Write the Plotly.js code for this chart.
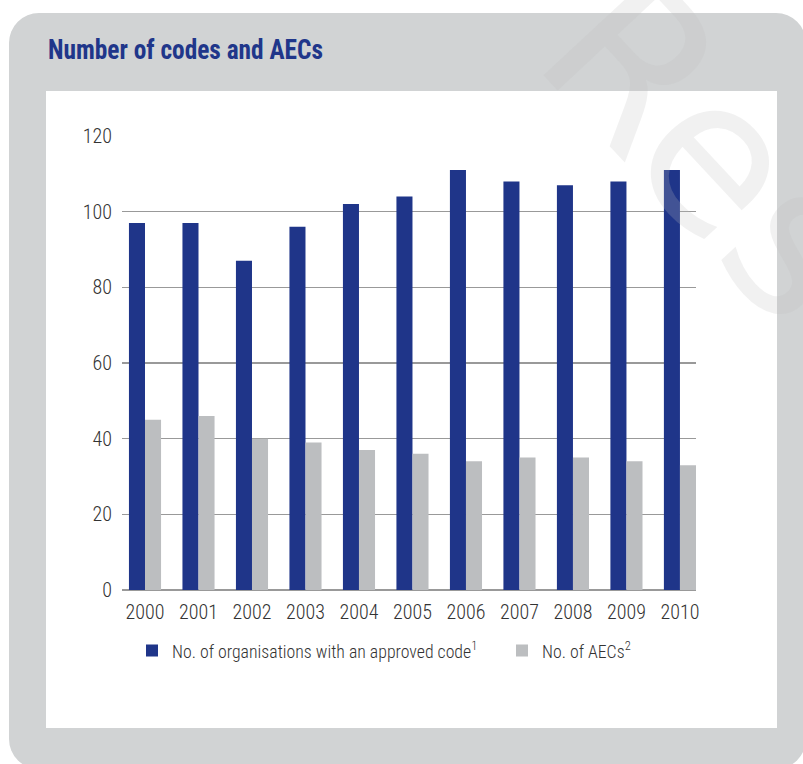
<!DOCTYPE html>
<html><head><meta charset="utf-8">
<script src="https://cdn.plot.ly/plotly-3.0.1.min.js"></script>
<style>
html,body{margin:0;padding:0;width:803px;height:764px;overflow:hidden;background:#fff;}
#wrap{position:relative;width:803px;height:764px;}
#grey{position:absolute;left:9px;top:13px;width:797px;height:756px;background:#d1d3d4;border-radius:30px;}
#white{position:absolute;left:46px;top:91px;width:731px;height:637px;background:#fff;}
#chart{position:absolute;left:0;top:0;width:803px;height:764px;}
</style></head>
<body><div id="wrap"><div id="grey"></div><div id="white"></div><div id="chart"></div></div>
<script>
const years = ['2000','2001','2002','2003','2004','2005','2006','2007','2008','2009','2010'];
const orgsWithCode = [97,97,87,96,102,104,111,108,107,108,111];
const aecs = [45,46,40,39,37,36,34,35,35,34,33];
const yTicks = [0,20,40,60,80,100,120];
const seriesNames = ['No. of organisations with an approved code<sup>1</sup>', 'No. of AECs<sup>2</sup>'];
const chartTitle = 'Number of codes and AECs';
const watermark = 'Res';

const W = 803, H = 764;
const L = 122, R = 107, T = 136, B = 174;
const PW = W - L - R, PH = H - T - B;
const font = 'Roboto Condensed, Roboto, sans-serif';

const traces = [
  {type:'bar', x:years, y:orgsWithCode, name:seriesNames[0], marker:{color:'#1f3589'}, hoverinfo:'x+y', legend:'legend'},
  {type:'bar', x:years, y:aecs, name:seriesNames[1], marker:{color:'#bcbec0'}, hoverinfo:'x+y', legend:'legend2'}
];

const legendFont = {family:font, size:17.8, weight:300, color:'#333'};
const legendY = (590-651)/PH;

const layout = {
  width:W, height:H,
  margin:{l:L, r:R, t:T, b:B, pad:0},
  paper_bgcolor:'rgba(0,0,0,0)', plot_bgcolor:'rgba(0,0,0,0)',
  barmode:'group', bargap:0.4, bargroupgap:0,
  font:{family:font, color:'#333', size:20, weight:300},
  title:{text:chartTitle, font:{family:font, size:28, weight:'bold', color:'#20368a'},
    xref:'container', yref:'container', x:48/W, xanchor:'left', y:1-49/H, yanchor:'middle'},
  xaxis:{type:'category', range:[-0.43,10.3], showgrid:false, zeroline:false, showline:false,
    ticks:'', tickfont:{family:font, size:20, weight:300, color:'#333'}, ticklabelstandoff:8, fixedrange:true},
  yaxis:{range:[0,120], tickvals:yTicks, showgrid:true, gridcolor:'#999', gridwidth:1.2,
    zeroline:true, zerolinecolor:'#999', zerolinewidth:1.2, showline:false, ticks:'',
    tickfont:{family:font, size:20, weight:300, color:'#333'}, ticklabelstandoff:9, fixedrange:true},
  showlegend:true,
  legend:{orientation:'h', x:(132-L)/PW, xanchor:'left', y:legendY, yanchor:'middle',
    font:legendFont, bgcolor:'rgba(0,0,0,0)', itemclick:false, itemdoubleclick:false},
  legend2:{orientation:'h', x:(502-L)/PW, xanchor:'left', y:legendY, yanchor:'middle',
    font:legendFont, bgcolor:'rgba(0,0,0,0)', itemclick:false, itemdoubleclick:false},
  annotations:[{text:watermark, xref:'paper', yref:'paper', x:(711-L)/PW, y:(590-148)/PH,
    xanchor:'center', yanchor:'middle', showarrow:false, textangle:47,
    font:{family:'DejaVu Sans, sans-serif', size:210, weight:'normal', color:'rgba(190,190,190,0.22)'}}]
};

Plotly.newPlot('chart', traces, layout, {displayModeBar:false, staticPlot:true}).then(function(gd){
  const t = gd.querySelector('.gtitle');
  if (t) { t.setAttribute('textLength', '275'); t.setAttribute('lengthAdjust', 'spacingAndGlyphs'); }
});
</script>
</body></html>
